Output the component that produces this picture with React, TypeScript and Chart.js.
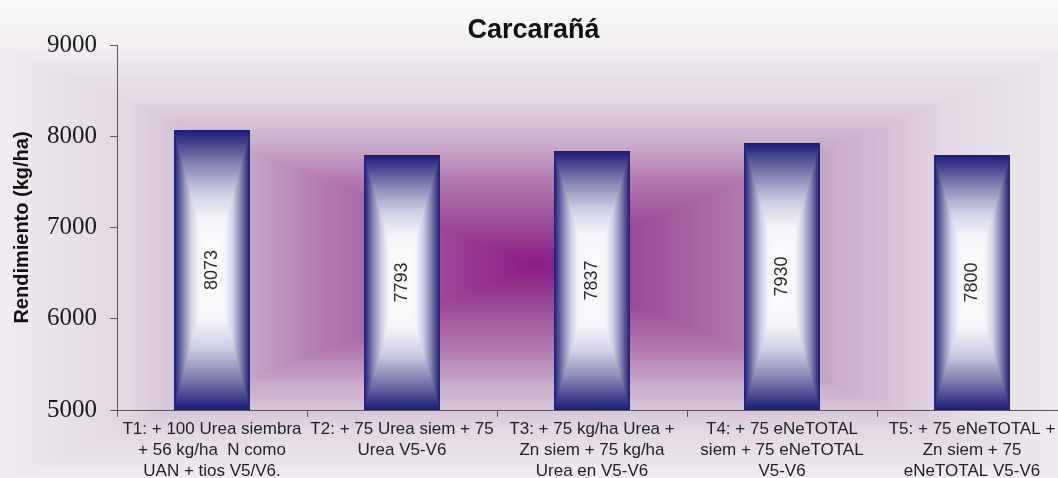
import React, { useEffect, useRef } from "react";
import { Chart, registerables } from "chart.js";

Chart.register(...registerables);

// Treatment names, split into the lines shown under each bar
const categories: string[][] = [
  ["T1: + 100 Urea siembra", "+ 56 kg/ha  N como", "UAN + tios V5/V6."],
  ["T2: + 75 Urea siem + 75", "Urea V5-V6"],
  ["T3: + 75 kg/ha Urea +", "Zn siem + 75 kg/ha", "Urea en V5-V6"],
  ["T4: + 75 eNeTOTAL", "siem + 75 eNeTOTAL", "V5-V6"],
  ["T5: + 75 eNeTOTAL +", "Zn siem + 75", "eNeTOTAL V5-V6"],
];

// Yield per treatment (kg/ha)
const rendimiento: number[] = [8073, 7793, 7837, 7930, 7800];

// Value axis ticks
const yTicks: number[] = [5000, 6000, 7000, 8000, 9000];

type Stop = [number, number, number, number]; // [t, r, g, b], t = 0 at centre, 1 at edge

// Purple "from centre" backdrop
const backdropStops: Stop[] = [
  [0, 139, 26, 134],
  [0.15, 156, 74, 150],
  [0.32, 178, 122, 175],
  [0.46, 202, 174, 202],
  [0.62, 226, 215, 226],
  [0.85, 244, 241, 244],
  [1, 250, 250, 250],
];

// Navy-to-white "from centre" bar fill
const barStops: Stop[] = [
  [0, 255, 255, 255],
  [0.35, 246, 246, 250],
  [0.55, 208, 208, 228],
  [0.75, 135, 135, 180],
  [0.9, 70, 70, 142],
  [1, 26, 26, 124],
];

function ramp(stops: Stop[], t: number): [number, number, number] {
  if (t <= stops[0][0]) return [stops[0][1], stops[0][2], stops[0][3]];
  for (let i = 1; i < stops.length; i++) {
    const a = stops[i - 1];
    const b = stops[i];
    if (t <= b[0]) {
      const k = (t - a[0]) / (b[0] - a[0]);
      return [
        a[1] + (b[1] - a[1]) * k,
        a[2] + (b[2] - a[2]) * k,
        a[3] + (b[3] - a[3]) * k,
      ];
    }
  }
  const l = stops[stops.length - 1];
  return [l[1], l[2], l[3]];
}

// Rectangular gradient bitmap: contours are rectangles around (cx, cy)
function rectGradient(
  w: number,
  h: number,
  cx: number,
  cy: number,
  hw: number,
  hh: number,
  stops: Stop[]
): HTMLCanvasElement {
  const c = document.createElement("canvas");
  c.width = Math.max(1, w);
  c.height = Math.max(1, h);
  const g = c.getContext("2d")!;
  const img = g.createImageData(c.width, c.height);
  const d = img.data;
  for (let y = 0; y < c.height; y++) {
    const ty = Math.abs(y + 0.5 - cy) / hh;
    for (let x = 0; x < c.width; x++) {
      const tx = Math.abs(x + 0.5 - cx) / hw;
      const t = Math.min(1, Math.max(tx, ty));
      const [r, gg, b] = ramp(stops, t);
      const o = (y * c.width + x) * 4;
      d[o] = r;
      d[o + 1] = gg;
      d[o + 2] = b;
      d[o + 3] = 255;
    }
  }
  g.putImageData(img, 0, 0);
  return c;
}

const backdrop = {
  id: "backdrop",
  beforeDraw(chart: any) {
    const { ctx, width, height } = chart;
    const img = rectGradient(width, height, width / 2, 265, 660, 265, backdropStops);
    ctx.save();
    ctx.drawImage(img, 0, 0);
    ctx.restore();
  },
};

const barFill = {
  id: "barFill",
  afterDatasetsDraw(chart: any) {
    const ctx = chart.ctx;
    const area = chart.chartArea;
    const meta = chart.getDatasetMeta(0);
    const values = chart.data.datasets[0].data as number[];
    meta.data.forEach((el: any, i: number) => {
      const { x, y, base, width } = el.getProps(["x", "y", "base", "width"], true);
      const left = Math.round(x - width / 2);
      const right = Math.round(x + width / 2);
      const top = Math.round(Math.max(area.top, Math.min(y, base)));
      const bottom = Math.round(Math.min(area.bottom, Math.max(y, base)));
      const w = right - left;
      const h = bottom - top;
      const img = rectGradient(w, h, w / 2, h / 2, w / 2, h / 2, barStops);
      ctx.save();
      ctx.drawImage(img, left, top);
      ctx.translate(x, (top + bottom) / 2);
      ctx.rotate(-Math.PI / 2);
      ctx.font = '18px "Liberation Sans", Arial, sans-serif';
      ctx.fillStyle = "#2b2b2b";
      ctx.textAlign = "center";
      ctx.textBaseline = "middle";
      ctx.fillText(String(values[i]), 0, 0);
      ctx.restore();
    });
  },
};

export default function App() {
  const ref = useRef<HTMLCanvasElement>(null);

  useEffect(() => {
    const chart = new Chart(ref.current!, {
      type: "bar",
      data: {
        labels: categories,
        datasets: [
          {
            data: rendimiento,
            backgroundColor: "rgba(0,0,0,0)",
            borderWidth: 0,
            barPercentage: 0.4,
            categoryPercentage: 1,
          },
        ],
      },
      options: {
        animation: false,
        responsive: false,
        maintainAspectRatio: false,
        devicePixelRatio: 1,
        layout: { padding: { left: 0, right: 3, top: 0, bottom: 0 } },
        plugins: {
          legend: { display: false },
          tooltip: { enabled: false },
          title: {
            display: true,
            text: "Carcarañá",
            color: "#111111",
            font: {
              family: '"Liberation Sans", Arial, sans-serif',
              size: 27,
              weight: "bold",
              lineHeight: 1,
            },
            padding: { top: 17, bottom: 1 },
          },
        },
        scales: {
          x: {
            type: "category",
            offset: true,
            grid: {
              offset: true,
              drawOnChartArea: false,
              drawTicks: true,
              tickLength: 7,
              color: "#595959",
            },
            border: { display: true, color: "#595959", width: 1 },
            ticks: {
              autoSkip: false,
              maxRotation: 0,
              minRotation: 0,
              padding: 2,
              color: "#222222",
              font: {
                family: '"Liberation Sans", Arial, sans-serif',
                size: 17,
                lineHeight: "21px",
              },
            },
            afterFit(scale: any) {
              scale.height = 68;
            },
          },
          y: {
            beginAtZero: false,
            min: yTicks[0],
            max: yTicks[yTicks.length - 1],
            grid: {
              drawOnChartArea: false,
              drawTicks: true,
              tickLength: 7,
              color: "#595959",
            },
            border: { display: true, color: "#595959", width: 1 },
            ticks: {
              stepSize: yTicks[1] - yTicks[0],
              padding: 13,
              color: "#1a1a1a",
              callback: (v: any) => String(v),
              font: {
                family: '"Liberation Serif", "Times New Roman", serif',
                size: 25,
              },
            },
            title: {
              display: true,
              text: "Rendimiento (kg/ha)",
              color: "#111111",
              padding: { top: 10, bottom: 0 },
              font: {
                family: '"Liberation Sans", Arial, sans-serif',
                size: 20,
                weight: "bold",
              },
            },
            afterFit(scale: any) {
              scale.width = 117;
            },
          },
        },
      },
      plugins: [backdrop, barFill],
    });
    return () => chart.destroy();
  }, []);

  return (
    <div
      style={{
        position: "absolute",
        left: 0,
        top: 0,
        width: 1058,
        height: 478,
        overflow: "hidden",
        background: "#fafafa",
      }}
    >
      <canvas ref={ref} width={1070} height={478} style={{ display: "block" }} />
    </div>
  );
}
